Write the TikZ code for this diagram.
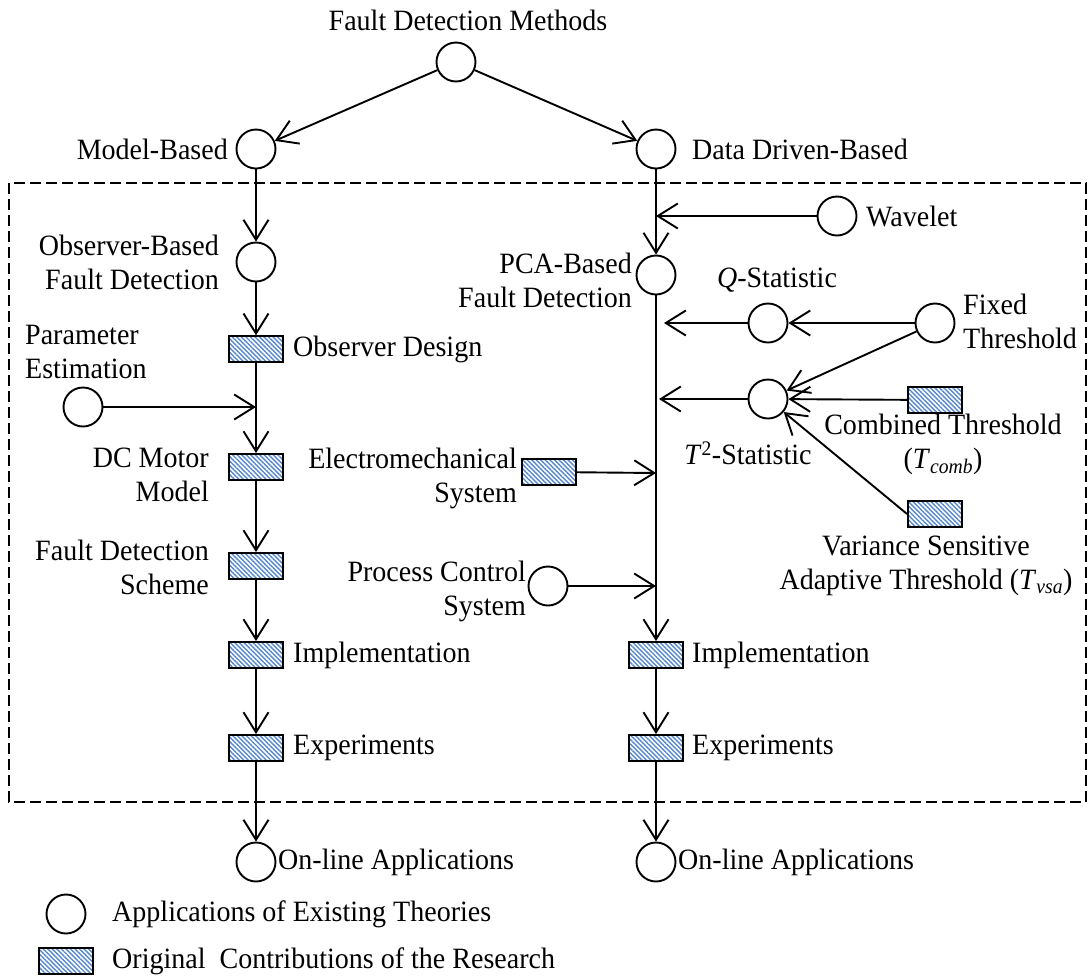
\documentclass[tikz,border=0pt]{standalone}
\usepackage{fontspec}
\setmainfont{Liberation Serif}[FakeStretch=0.95]
\usetikzlibrary{arrows.meta,patterns.meta}
\definecolor{hatch}{RGB}{85,135,205}
\begin{document}
\begin{tikzpicture}[x=1pt,y=-1pt,
  every node/.style={font=\fontsize{29.5}{34}\selectfont},
  circ/.style={circle,draw,line width=1.9pt,minimum size=39pt,inner sep=0pt},
  hbox/.style={draw,line width=1.9pt,minimum width=54pt,minimum height=26pt,inner sep=0pt,
    pattern={Lines[angle=-45,distance=3.2pt,line width=1.4pt]},pattern color=hatch},
  arr/.style={line width=1.9pt,-{Straight Barb[length=20pt,width=25pt]}},
  lbl/.style={inner sep=0pt},
]
\useasboundingbox (0,0) rectangle (1088,978);
\draw[line width=2.6pt,dash pattern=on 11pt off 5pt] (9,183) rectangle (1086,802);

% top
\node[circ] (fdm) at (456,62) {};
\node[lbl] (fdmT) at (468,20) {Fault Detection Methods};
\node[circ] (mb) at (256,149) {};
\node[lbl,anchor=east] (mbT) at (228,149) {Model-Based};
\node[circ] (dd) at (656,149) {};
\node[lbl,anchor=west] (ddT) at (692,149) {Data Driven-Based};

% left column
\node[circ] (obs) at (256,262) {};
\node[lbl,anchor=east,align=right] (obsT) at (219,262) {Observer-Based\\Fault Detection};
\node[hbox] (od) at (256,349) {};
\node[lbl,anchor=west] (odT) at (293,349) {Observer Design};
\node[circ] (pe) at (83,407) {};
\node[lbl,anchor=west,align=left] (peT) at (25,352) {Parameter\\Estimation};
\coordinate (pj) at (256,407);
\node[hbox] (dcm) at (256,467) {};
\node[lbl,anchor=east,align=right] (dcmT) at (209,475) {DC Motor\\Model};
\node[hbox] (fds) at (256,566) {};
\node[lbl,anchor=east,align=right] (fdsT) at (209,567) {Fault Detection\\Scheme};
\node[hbox] (impL) at (256,655) {};
\node[lbl,anchor=west] (impLT) at (293,655) {Implementation};
\node[hbox] (expL) at (256,748) {};
\node[lbl,anchor=west] (expLT) at (293,748) {Experiments};
\node[circ] (onL) at (256,862) {};
\node[lbl,anchor=west] (onLT) at (278,862) {On-line Applications};

% right column
\node[circ] (wav) at (837,216) {};
\node[lbl,anchor=west] (wavT) at (866,216) {Wavelet};
\coordinate (wj) at (656,216);
\node[circ] (pca) at (656,275) {};
\node[lbl,anchor=east,align=right] (pcaT) at (632,280) {PCA-Based\\Fault Detection};
\node[circ] (qs) at (768,323) {};
\node[lbl] (qsT) at (777,280) {\textit{Q}-Statistic};
\coordinate (qj) at (664,323);
\node[circ] (fix) at (935,323) {};
\node[lbl,anchor=west,align=left] (fixT) at (963,321) {Fixed\\Threshold};
\node[circ] (t2) at (768,399) {};
\node[lbl] (t2T) at (748,453) {\textit{T}\textsuperscript{2}-Statistic};
\coordinate (tj) at (659,399);
\node[hbox] (comb) at (935,400) {};
\node[lbl,align=center] (combT) at (943,444) {Combined Threshold\\(\textit{T}\textsubscript{\itshape comb})};
\node[hbox] (vsa) at (935,514) {};
\node[lbl,align=center] (vsaT) at (926,566) {Variance Sensitive\\Adaptive Threshold (\textit{T}\textsubscript{\itshape vsa})};
\node[hbox] (em) at (549,472) {};
\node[lbl,anchor=east,align=right] (emT) at (517,478) {Electromechanical\\System};
\coordinate (ej) at (656,473);
\node[circ] (pc) at (548,586) {};
\node[lbl,anchor=east,align=right] (pcT) at (526,591) {Process Control\\System};
\coordinate (pcj) at (656,586);
\node[hbox] (impR) at (656,655) {};
\node[lbl,anchor=west] (impRT) at (692,655) {Implementation};
\node[hbox] (expR) at (656,748) {};
\node[lbl,anchor=west] (expRT) at (692,748) {Experiments};
\node[circ] (onR) at (656,862) {};
\node[lbl,anchor=west] (onRT) at (678,862) {On-line Applications};

% legend
\node[circ] (legC) at (66,914) {};
\node[lbl,anchor=west] (legCT) at (112,914) {Applications of Existing Theories};
\node[hbox] (legR) at (66,961) {};
\node[lbl,anchor=west] (legRT) at (112,961) {Original\ \ Contributions of the Research};

% connectors
\draw[arr] (fdm) -- (mb);
\draw[arr] (fdm) -- (dd);
\draw[arr] (mb) -- (obs);
\draw[arr] (obs) -- (od);
\draw[arr] (od) -- (dcm);
\draw[arr] (pe) -- (pj);
\draw[arr] (dcm) -- (fds);
\draw[arr] (fds) -- (impL);
\draw[arr] (impL) -- (expL);
\draw[arr] (expL) -- (onL);

\draw[arr] (dd) -- (pca);
\draw[arr] (wav) -- (wj);
\draw[arr] (pca) -- (impR);
\draw[arr] (qs) -- (qj);
\draw[arr] (fix) -- (qs);
\draw[arr] (fix) -- (t2);
\draw[arr] (t2) -- (tj);
\draw[arr] (comb) -- (t2);
\draw[arr] (vsa.west) -- (t2);
\draw[arr] (em) -- (ej);
\draw[arr] (pc) -- (pcj);
\draw[arr] (impR) -- (expR);
\draw[arr] (expR) -- (onR);
\end{tikzpicture}
\end{document}
